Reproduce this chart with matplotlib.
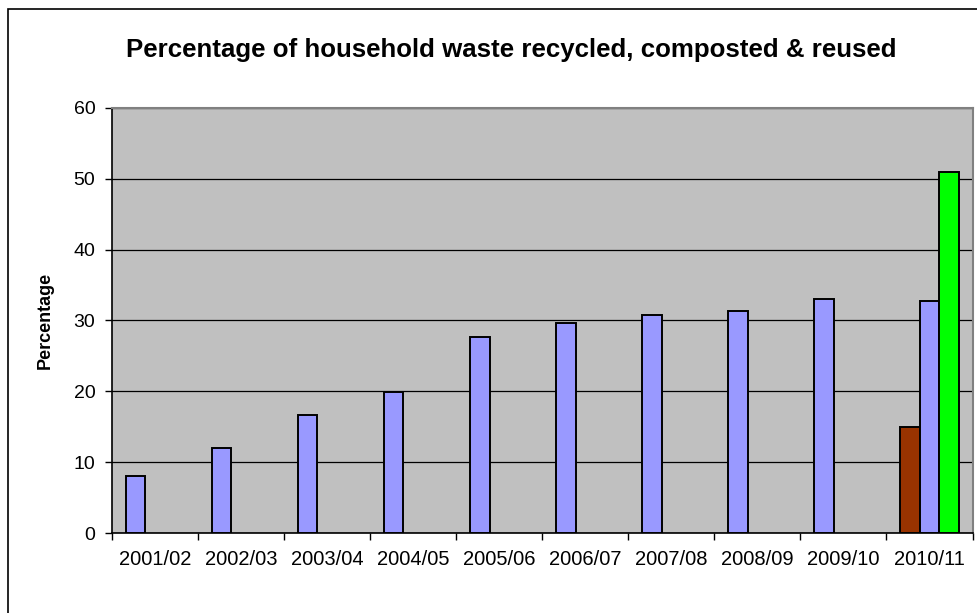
import matplotlib
matplotlib.use("Agg")
import matplotlib.pyplot as plt
from matplotlib.patches import Rectangle
import numpy as np

plt.rcParams['font.family'] = ['Liberation Sans', 'DejaVu Sans']

categories = ["2001/02", "2002/03", "2003/04", "2004/05", "2005/06",
              "2006/07", "2007/08", "2008/09", "2009/10", "2010/11"]
# first series (left slot): last point coloured dark red
series1 = [8.1, 12.0, 16.7, 19.9, 27.6, 29.6, 30.8, 31.3, 33.0, 15.0]
series1_colors = ["#9999FF"] * 9 + ["#993300"]
# second series (middle slot), only 2010/11
series2 = [0, 0, 0, 0, 0, 0, 0, 0, 0, 32.7]
# third series (right slot), only 2010/11
series3 = [0, 0, 0, 0, 0, 0, 0, 0, 0, 51.0]

fig = plt.figure(figsize=(9.77, 6.13), dpi=100)
ax = fig.add_axes([0.1146, 0.1305, 0.8808, 0.6935])

x = np.arange(len(categories))
w = 0.225
ax.bar(x - w, series1, width=w, color=series1_colors, edgecolor="black", linewidth=1.4, zorder=3)
idx = [i for i, v in enumerate(series2) if v > 0]
ax.bar(x[idx], [series2[i] for i in idx], width=w, color="#9999FF", edgecolor="black", linewidth=1.4, zorder=3)
idx = [i for i, v in enumerate(series3) if v > 0]
ax.bar(x[idx] + w, [series3[i] for i in idx], width=w, color="#00FF00", edgecolor="black", linewidth=1.4, zorder=3)

ax.set_facecolor("#C0C0C0")
ax.set_xlim(-0.5, len(categories) - 0.5)
ax.set_ylim(0, 60)
ax.set_yticks(np.arange(0, 61, 10))
ax.yaxis.grid(True, color="black", linewidth=0.9, zorder=1)
ax.set_axisbelow(True)

ax.set_xticks(x)
ax.set_xticklabels(categories, fontsize=14.5)
ax.set_xticks(np.arange(-0.5, len(categories), 1), minor=True)
ax.tick_params(axis='x', which='major', length=0, pad=12)
ax.tick_params(axis='x', which='minor', length=5, width=1, direction='out')
ax.tick_params(axis='y', length=5, width=1, direction='out', labelsize=14, pad=7)

for s in ['top', 'right']:
    ax.spines[s].set_color("#808080")
    ax.spines[s].set_linewidth(1.5)
for s in ['left', 'bottom']:
    ax.spines[s].set_color("black")
    ax.spines[s].set_linewidth(1.2)

ax.set_ylabel("Percentage", fontsize=13, fontweight='bold', labelpad=14)
fig.text(0.523, 0.918, "Percentage of household waste recycled, composted & reused",
         ha='center', va='center', fontsize=18.6, fontweight='bold')

# figure border
fig.patches.append(Rectangle((8/977, -0.1), 1.2, 1 - 9/613 + 0.1, transform=fig.transFigure,
                             fill=False, edgecolor="black", linewidth=1.2))

fig.savefig("out.png", dpi=100)
